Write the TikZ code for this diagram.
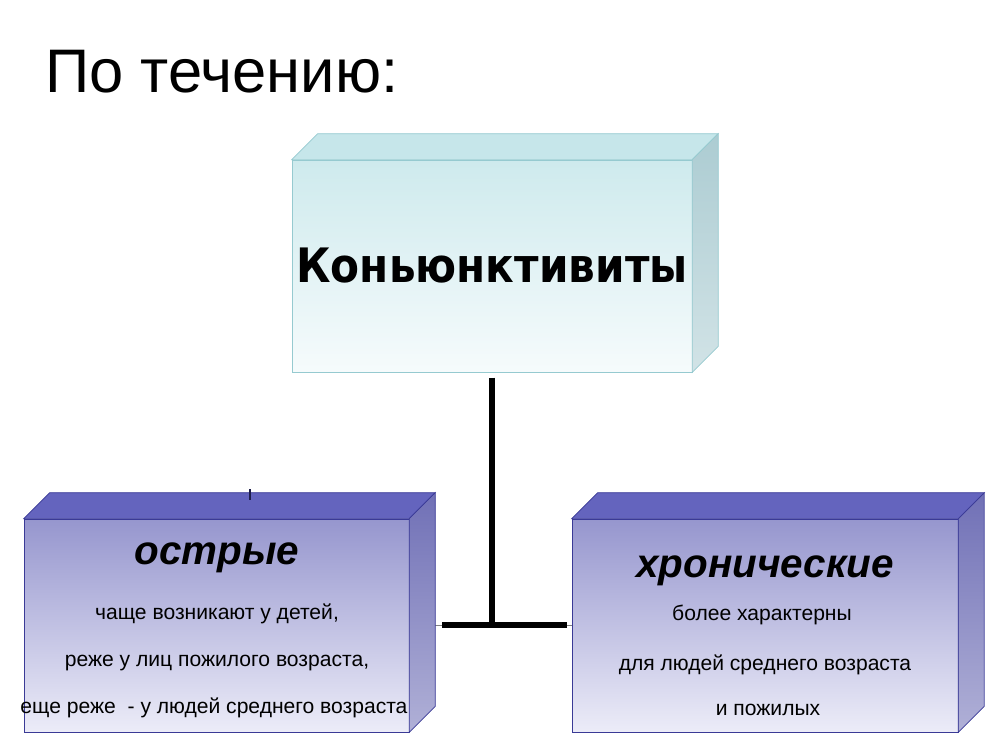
\documentclass[tikz,border=0pt]{standalone}
\usepackage{fontspec}
\setmainfont{Liberation Sans}
\newfontfamily\roundfont{DejaVu Sans}
\usetikzlibrary{positioning}

\definecolor{cyanfront}{RGB}{206,234,237}
\definecolor{cyanlow}{RGB}{246,251,252}
\definecolor{cyantop}{RGB}{198,230,234}
\definecolor{cyanside}{RGB}{172,204,210}
\definecolor{cyanline}{RGB}{150,202,208}
\definecolor{violetfront}{RGB}{150,150,206}
\definecolor{violetlow}{RGB}{236,236,248}
\definecolor{violettop}{RGB}{100,100,190}
\definecolor{violetside}{RGB}{112,112,182}
\definecolor{violetline}{RGB}{58,58,150}

\begin{document}
\begin{tikzpicture}[x=0.02cm, y=-0.02cm,
    slab/.style={rectangle, inner sep=0pt},
    cyanslab/.style={slab, draw=cyanline, top color=cyanfront, bottom color=cyanlow},
    violetslab/.style={slab, draw=violetline, top color=violetfront, bottom color=violetlow},
    heading/.style={font=\fontsize{23}{28}\selectfont\bfseries\itshape},
    note/.style={font=\fontsize{12}{14}\selectfont},
    bar/.style={line width=3.4pt}]
        \useasboundingbox (0,0) rectangle (1000,750);

        \node[anchor=base west, inner sep=0pt, font=\fontsize{35}{40}\selectfont] (title) at (45,92) {По течению:};

        \node[cyanslab, minimum width=8cm, minimum height=4.24cm] (conj) at (492,266) {};
        \node[violetslab, minimum width=7.7cm, minimum height=4.26cm] (acute) at (216.5,625.5) {};
        \node[violetslab, minimum width=7.72cm, minimum height=4.26cm] (chronic) at (765,625.5) {};

        \draw[gray, thin] (acute.east) -- (chronic.west);

        \foreach \b/\t/\s/\l in {conj/cyantop/cyanside/cyanline, acute/violettop/violetside/violetline, chronic/violettop/violetside/violetline} {
            \filldraw[fill=\t, draw=\l] (\b.north west) -- ++(26,-26) -- ([shift={(26,-26)}]\b.north east) -- (\b.north east) -- cycle;
            \shade[top color=\s, bottom color=\s!55!white, draw=\l] (\b.north east) -- ([shift={(26,-26)}]\b.north east) -- ([shift={(26,-26)}]\b.south east) -- (\b.south east) -- cycle;
        }

        \node[font=\roundfont\fontsize{27}{32}\selectfont\bfseries] (conjname) at (492,266) {\scalebox{0.89}[1]{Коньюнктивиты}};

        \node[heading] (acutename) at (217,558) {острые};
        \node[note] (a1) at (217,614) {чаще возникают у детей,};
        \node[note] (a2) at (217,663) {реже у лиц пожилого возраста,};
        \node[note] (a3) at (214,708) {еще реже\ \ - у людей среднего возраста};

        \node[heading] (chronicname) at (765,571) {хронические};
        \node[note] (c1) at (762,615) {более характерны};
        \node[note] (c2) at (765,665) {для людей среднего возраста};
        \node[note] (c3) at (768,710) {и пожилых};

        \coordinate (barL) at (442,625);
        \coordinate (barR) at (567,625);
        \draw[bar] (barL) -- (barR);
        \draw[bar] ([yshift=-3]conj.south) -- (conj.south |- barL);

        \coordinate (tick) at (250,489);
        \draw[line width=1.2pt, violetline!50!black] (tick) -- ++(0,11);
\end{tikzpicture}
\end{document}
